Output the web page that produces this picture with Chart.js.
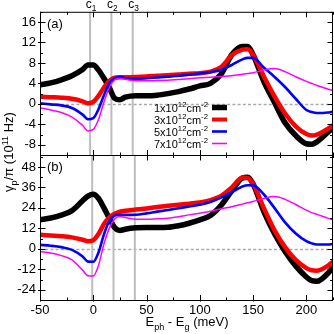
<!DOCTYPE html>
<html><head><meta charset="utf-8">
<script src="https://cdn.jsdelivr.net/npm/chart.js@4.4.0/dist/chart.umd.min.js"></script>
<style>
html,body{margin:0;padding:0;background:#fff;}
#wrap{position:relative;width:334px;height:334px;overflow:hidden;}
canvas{position:absolute;left:0;top:0;}
</style></head><body>
<div id="wrap"><canvas id="ca" width="334" height="334"></canvas><canvas id="cb" width="334" height="334"></canvas></div>
<script>
// ---------------- data ----------------
const energies = [-50,-40,-30,-20,-10,-5,0,5,10,15,20,25,30,40,50,60,70,80,90,100,110,120,130,140,145,150,160,170,180,190,200,205,210,220,225];
const densities = ['1','3','5','7'];
const colors = ['#000000','#ff0000','#0000ff','#ff00ff'];

// panel (a)
const aN1 = [3.7,4.1,4.7,5.5,6.7,7.6,7.6,6.6,5.0,3.2,1.1,0.8,1.3,1.6,1.6,1.7,2.0,2.4,2.9,3.5,4.0,5.8,9.6,11.2,11.2,9.6,4.4,0.3,-3.7,-6.2,-7.8,-7.9,-7.4,-5.6,-4.7];
const aN3 = [1.4,1.3,1.2,1.0,0.5,0.1,0.4,1.6,3.2,4.5,5.1,5.2,5.2,5.25,5.35,5.5,5.6,5.75,5.9,6.0,6.3,7.2,9.5,10.6,10.7,9.6,5.4,1.5,-1.9,-4.4,-5.9,-6.2,-6.0,-4.9,-4.2];
const aN5 = [0.1,-0.1,-0.3,-0.8,-2.1,-3.0,-2.8,-1.0,1.7,4.0,5.0,5.3,5.0,4.9,5.0,5.15,5.3,5.5,5.7,5.95,6.2,6.6,7.6,8.7,9.0,9.0,7.1,5.3,3.3,1.0,-1.2,-1.6,-1.8,-1.7,-1.5];
const aN7 = [-0.8,-1.2,-1.7,-2.6,-4.2,-5.3,-5.0,-3.0,0.3,3.2,4.7,5.0,4.8,4.5,4.5,4.55,4.6,4.75,4.9,5.1,5.2,5.35,5.5,5.8,5.95,6.1,6.6,6.9,6.3,5.3,4.4,4.0,3.6,2.9,2.6];
// panel (b)
const bN1 = [17,18.1,19.8,22.4,28.2,30.9,32,29.5,24,18,12.5,10.8,11.5,12.3,12.5,12.5,12.6,13.5,15,17,19.5,25.5,34,41.5,42,38,22,9,-1.5,-10,-16.5,-18.7,-19,-14.5,-10.7];
const bN3 = [8.2,7.8,7.4,6.7,5.3,4.4,5.0,8.8,14.5,18.5,20.5,21.8,22.3,23,23.7,24.5,25.2,25.9,26.5,27.1,28.5,31,36,41.8,41.5,38,24,11,1,-6.5,-11.3,-12.6,-12.8,-10,-7.4];
const bN5 = [2.3,1.8,1.0,-0.6,-4.5,-7.5,-7.6,-2.0,8.5,16.2,19.5,20.0,19.9,20,20.8,21.8,22.8,23.8,24.8,25.8,27.5,30,33.2,36.5,37.3,37.2,32,24,15.5,9,4.5,3.2,2.5,2.5,2.8];
const bN7 = [-1.6,-2.5,-4.0,-6.5,-12.5,-15.8,-16,-9.5,2.8,12,17.5,19,18.4,17.3,17.3,17.6,17.9,18.8,19.9,20.9,22,23.5,24.7,26.2,27,27.7,29.5,30.6,29,26,22.7,21.2,20.2,18,17];

const xTicks = [-50,0,50,100,150,200];
const xMinor = [-25,25,75,125,175,225];
const aTicks = [-8,-4,0,4,8,12,16];
const aMinor = [-10,-6,-2,2,6,10,14,18];
const bTicks = [-24,-12,0,12,24,36,48];
const bMinor = [-30,-18,-6,6,18,30,42,54];
const aMarkers = [-3,17,37];
const bMarkers = [-1,19,39];

// ---------------- helpers ----------------
const FONT = '"Liberation Sans", Arial, sans-serif';
function rich(ctx, parts, x, y, size, align){
  let w = 0;
  parts.forEach(p=>{ctx.font=(p.s?size*0.7:size)+'px '+FONT; w+=ctx.measureText(p.t).width;});
  let cx = align==='center' ? x-w/2 : (align==='right' ? x-w : x);
  ctx.textAlign='left'; ctx.textBaseline='alphabetic';
  parts.forEach(p=>{
    const fs = p.s?size*0.7:size;
    ctx.font = fs+'px '+FONT;
    const dy = p.s==='sup' ? -size*0.42 : (p.s==='sub' ? size*0.32 : 0);
    ctx.fillText(p.t, cx, y+dy);
    cx += ctx.measureText(p.t).width;
  });
}
function pts(ys){ return energies.map((e,i)=>({x:e,y:ys[i]})); }
const widths = [5.5,4.5,2.6,1.5];
function makeSets(series){
  return series.map((s,i)=>({
    label: densities[i]+'x10^12cm^-2',
    data: pts(s), borderColor: colors[i], backgroundColor: colors[i],
    borderWidth: widths[i], pointRadius: 0, fill:false,
    cubicInterpolationMode:'monotone', order: 4-i
  }));
}

function decorPlugin(cfg){
  return {
    id:'decor'+cfg.name,
    beforeDatasetsDraw(chart){
      const {ctx, chartArea:a, scales:{x,y}} = chart;
      ctx.save();
      // zero line
      const y0 = Math.round(y.getPixelForValue(0))+0.5;
      ctx.strokeStyle='#aaaaaa'; ctx.lineWidth=1.6; ctx.setLineDash([3,2.2]);
      ctx.beginPath(); ctx.moveTo(a.left,y0); ctx.lineTo(a.right,y0); ctx.stroke();
      ctx.setLineDash([]);
      // c lines
      ctx.strokeStyle='#bdbdbd'; ctx.lineWidth=2;
      cfg.markers.forEach(m=>{
        const px = x.getPixelForValue(m);
        ctx.beginPath(); ctx.moveTo(px,a.top); ctx.lineTo(px,a.bottom); ctx.stroke();
      });
      ctx.restore();
    },
    afterDatasetsDraw(chart){
      const {ctx, chartArea:a, scales:{x,y}} = chart;
      ctx.save();
      ctx.strokeStyle='#000'; ctx.lineWidth=1;
      ctx.strokeRect(a.left+0.5, a.top+0.5, a.right-a.left-1, a.bottom-a.top);
      ctx.beginPath();
      xTicks.forEach(v=>{
        const px=Math.round(x.getPixelForValue(v))+0.5;
        ctx.moveTo(px,a.bottom+1.5); ctx.lineTo(px,a.bottom-5);
        ctx.moveTo(px,a.top); ctx.lineTo(px,a.top+5.5);
      });
      xMinor.forEach(v=>{
        const px=Math.round(x.getPixelForValue(v))+0.5;
        ctx.moveTo(px,a.bottom); ctx.lineTo(px,a.bottom-2.5);
        ctx.moveTo(px,a.top); ctx.lineTo(px,a.top+3);
      });
      cfg.ticks.forEach(v=>{
        const py=Math.round(y.getPixelForValue(v))+0.5;
        ctx.moveTo(a.left-2,py); ctx.lineTo(a.left+5.5,py);
        ctx.moveTo(a.right,py); ctx.lineTo(a.right-5.5,py);
      });
      cfg.minor.forEach(v=>{
        const py=Math.round(y.getPixelForValue(v))+0.5;
        if(py<a.top||py>a.bottom) return;
        ctx.moveTo(a.left,py); ctx.lineTo(a.left+3,py);
        ctx.moveTo(a.right,py); ctx.lineTo(a.right-3,py);
      });
      ctx.stroke();
      ctx.fillStyle='#000';
      // panel label
      ctx.font='13px '+FONT; ctx.textAlign='left'; ctx.textBaseline='alphabetic';
      ctx.fillText(cfg.panel, a.left+7, a.top+16);
      if(cfg.extra) cfg.extra(chart);
      ctx.restore();
    }
  };
}

function legendAndLabels(chart){
  const {ctx, chartArea:a, scales:{x}} = chart;
  const rows=[107.5,119.5,131.5,143.5];
  chart.data.datasets.forEach((d,i)=>{
    ctx.fillStyle='#000';
    const parts=[{t:densities[i]+'x10'},{t:'12',s:'sup'},{t:'cm'},{t:'-2',s:'sup'}];
    rich(ctx, parts, 154, rows[i]+4, 11, 'left');
    ctx.strokeStyle=d.borderColor; ctx.lineWidth=[5.5,4,2.6,1.6][i];
    ctx.beginPath(); ctx.moveTo(212,rows[i]); ctx.lineTo(227,rows[i]); ctx.stroke();
  });
  ctx.fillStyle='#000';
  aMarkers.forEach((m,i)=>{
    rich(ctx,[{t:'c'},{t:String(i+1),s:'sub'}], x.getPixelForValue(m)+1, 7.5, 12, 'center');
  });
}
function titles(chart){
  const {ctx} = chart;
  ctx.fillStyle='#000';
  rich(ctx,[{t:'E'},{t:'ph',s:'sub'},{t:' - E'},{t:'g',s:'sub'},{t:' (meV)'}], 187, 326, 13, 'center');
  ctx.save();
  ctx.translate(13,152); ctx.rotate(-Math.PI/2);
  rich(ctx,[{t:'γ'},{t:'p',s:'sub'},{t:'/π (10'},{t:'11',s:'sup'},{t:' Hz)'}], 0, 0, 13, 'center');
  ctx.restore();
}

function yScale(min,max,ticks){
  return {
    type:'linear', min, max,
    grid:{display:false, drawTicks:false}, border:{display:false},
    afterFit(s){ s.width=40; },
    afterBuildTicks(s){ s.ticks = ticks.map(v=>({value:v})); },
    ticks:{color:'#000', padding:4, font:{family:FONT,size:13}}
  };
}

Chart.defaults.font.family = FONT;
Chart.defaults.animation = false;

new Chart(document.getElementById('ca'),{
  type:'line',
  data:{datasets: makeSets([aN1,aN3,aN5,aN7])},
  options:{
    responsive:false, animation:false, devicePixelRatio:1,
    layout:{padding:{top:10,bottom:179,left:0,right:1}},
    plugins:{legend:{display:false},tooltip:{enabled:false}},
    scales:{
      x:{type:'linear',min:-50,max:225,display:false},
      y:yScale(-10,18,aTicks)
    }
  },
  plugins:[decorPlugin({name:'a',markers:aMarkers,ticks:aTicks,minor:aMinor,panel:'(a)',extra:legendAndLabels})]
});

new Chart(document.getElementById('cb'),{
  type:'line',
  data:{datasets: makeSets([bN1,bN3,bN5,bN7])},
  options:{
    responsive:false, animation:false, devicePixelRatio:1,
    layout:{padding:{top:155,bottom:0,left:0,right:1}},
    plugins:{legend:{display:false},tooltip:{enabled:false}},
    scales:{
      x:{type:'linear',min:-50,max:225,
        grid:{display:false,drawTicks:false}, border:{display:false},
        afterFit(s){ s.height=34; },
        afterBuildTicks(s){ s.ticks = xTicks.map(v=>({value:v})); },
        ticks:{color:'#000',padding:3,maxRotation:0,font:{family:FONT,size:13}}
      },
      y:yScale(-30,55,bTicks)
    }
  },
  plugins:[decorPlugin({name:'b',markers:bMarkers,ticks:bTicks,minor:bMinor,panel:'(b)',extra:titles})]
});
</script>
</body></html>
